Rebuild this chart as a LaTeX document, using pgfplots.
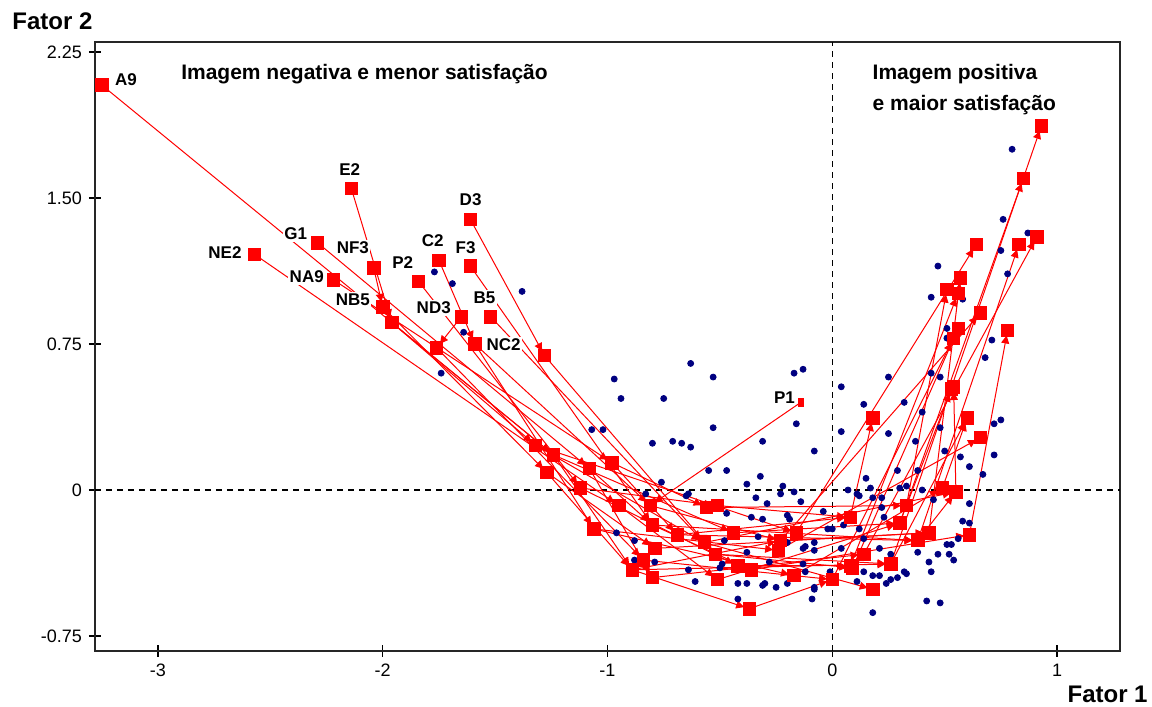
\documentclass[border=0pt]{standalone}
\usepackage{fontspec}
\setmainfont{Liberation Sans}
\usepackage{pgfplots}
\pgfplotsset{compat=1.18}
\usetikzlibrary{arrows.meta}
\definecolor{dotblue}{RGB}{0,0,128}
\definecolor{sqred}{RGB}{255,0,0}
\pgfplotsset{
  seg/.style={sqred, line width=0.5pt, -{Triangle[length=4pt,width=4pt]}, shorten >=2.6pt, forget plot, mark=none},
}
\tikzset{lbl/.style={font=\bfseries\fontsize{8.5}{10}\selectfont, fill=white, inner sep=0.8pt}}
\newcommand{\seg}[4]{\addplot[seg] coordinates {(#1,#2) (#3,#4)};}
\begin{document}
\begin{tikzpicture}
\path[use as bounding box] (-47.5pt,-28pt) rectangle (528.5pt,325.5pt);
\begin{axis}[
  scale only axis, width=512.5pt, height=304.5pt,
  xmin=-3.28, xmax=1.28, ymin=-0.827, ymax=2.301,
  axis line style={line width=1pt, black!85},
  xtick={-3,-2,-1,0,1}, xticklabels={-3,-2,-1,0,1},
  ytick={-0.75,0,0.75,1.5,2.25}, yticklabels={-0.75,0,0.75,1.50,2.25},
  tick align=center, major tick length=6pt,
  xtick pos=lower, ytick pos=left,
  tick style={black, line width=0.6pt},
  ticklabel style={font=\fontsize{9}{10.5}\selectfont},
  clip=false,
]
% reference lines
\addplot[black, line width=0.6pt, dash pattern=on 3pt off 2.5pt, forget plot] coordinates {(-3.28,0) (1.28,0)};
\addplot[black, line width=0.6pt, dash pattern=on 3pt off 2.5pt, forget plot] coordinates {(0,-0.827) (0,2.301)};

% trajectories
% A9
\seg{-3.25}{2.08}{-1.24}{0.18}\seg{-1.24}{0.18}{-0.89}{-0.41}\seg{-0.89}{-0.41}{0.26}{-0.38}\seg{0.26}{-0.38}{0.93}{1.87}
% NE2
\seg{-2.57}{1.21}{-0.95}{-0.08}\seg{-0.95}{-0.08}{-0.51}{-0.46}\seg{-0.51}{-0.46}{0.30}{-0.17}\seg{0.30}{-0.17}{0.85}{1.60}
% G1
\seg{-2.29}{1.27}{-1.08}{0.11}\seg{-1.08}{0.11}{-0.80}{-0.45}\seg{-0.80}{-0.45}{0.14}{-0.33}\seg{0.14}{-0.33}{0.91}{1.30}
% NA9
\seg{-2.22}{1.08}{-0.98}{0.14}\seg{-0.98}{0.14}{-0.69}{-0.23}\seg{-0.69}{-0.23}{0.38}{-0.26}\seg{0.38}{-0.26}{0.83}{1.26}
% E2
\seg{-2.14}{1.55}{-1.96}{0.86}\seg{-1.96}{0.86}{-1.32}{0.23}\seg{-1.32}{0.23}{-0.16}{-0.22}\seg{-0.16}{-0.22}{0.64}{1.26}
% NF3
\seg{-2.04}{1.14}{-2.00}{0.94}\seg{-2.00}{0.94}{-1.27}{0.09}\seg{-1.27}{0.09}{-0.79}{-0.30}\seg{-0.79}{-0.30}{0.43}{-0.22}\seg{0.43}{-0.22}{0.57}{1.09}
% P2
\seg{-1.84}{1.07}{-1.12}{0.01}\seg{-1.12}{0.01}{-0.42}{-0.39}\seg{-0.42}{-0.39}{0.08}{-0.39}\seg{0.08}{-0.39}{0.56}{1.01}
% C2
\seg{-1.75}{1.18}{-1.59}{0.75}\seg{-1.59}{0.75}{-0.81}{-0.08}\seg{-0.81}{-0.08}{-0.23}{-0.26}\seg{-0.23}{-0.26}{0.66}{0.91}
% F3
\seg{-1.61}{1.15}{-0.80}{-0.18}\seg{-0.80}{-0.18}{-0.36}{-0.41}\seg{-0.36}{-0.41}{0.61}{-0.23}\seg{0.61}{-0.23}{0.78}{0.82}
% D3
\seg{-1.61}{1.39}{-1.28}{0.69}\seg{-1.28}{0.69}{-0.52}{-0.33}\seg{-0.52}{-0.33}{0.09}{-0.40}\seg{0.09}{-0.40}{0.56}{0.83}
% ND3
\seg{-1.65}{0.89}{-1.76}{0.73}\seg{-1.76}{0.73}{-0.84}{-0.36}\seg{-0.84}{-0.36}{0.00}{-0.46}\seg{0.00}{-0.46}{0.54}{0.78}
% B5
\seg{-1.52}{0.89}{-0.57}{-0.27}\seg{-0.57}{-0.27}{0.55}{-0.01}\seg{0.55}{-0.01}{0.54}{0.53}
% NC2
\seg{-1.59}{0.75}{-1.06}{-0.20}\seg{-1.06}{-0.20}{-0.17}{-0.44}\seg{-0.17}{-0.44}{0.49}{0.01}\seg{0.49}{0.01}{0.60}{0.37}
% P1
\seg{-0.14}{0.45}{-0.81}{-0.08}
% others
\seg{-1.96}{0.86}{-1.24}{0.18}\seg{-1.24}{0.18}{-0.44}{-0.22}\seg{-0.44}{-0.22}{0.30}{-0.17}\seg{0.30}{-0.17}{0.53}{0.52}
\seg{-1.06}{-0.20}{-0.24}{-0.31}\seg{-0.24}{-0.31}{0.66}{0.27}
\seg{-1.12}{0.01}{-0.51}{-0.08}\seg{-0.51}{-0.08}{0.08}{-0.14}\seg{0.08}{-0.14}{0.18}{0.37}
\seg{-1.27}{0.09}{-0.89}{-0.41}\seg{-0.89}{-0.41}{-0.37}{-0.61}\seg{-0.37}{-0.61}{0.00}{-0.46}
\seg{-1.08}{0.11}{-0.80}{-0.18}\seg{-0.80}{-0.18}{0.38}{-0.26}\seg{0.38}{-0.26}{0.55}{-0.01}
\seg{-0.98}{0.14}{-0.56}{-0.09}\seg{-0.56}{-0.09}{0.33}{-0.08}\seg{0.33}{-0.08}{0.51}{1.03}
\seg{-1.32}{0.23}{-0.57}{-0.27}\seg{-0.57}{-0.27}{0.18}{-0.51}
\seg{-0.89}{-0.41}{-0.23}{-0.26}\seg{-0.23}{-0.26}{0.43}{-0.22}
\seg{-0.69}{-0.23}{0.08}{-0.14}
\seg{-0.52}{-0.33}{0.26}{-0.38}\seg{0.26}{-0.38}{0.60}{0.37}

% blue dots
\addplot[only marks, mark=*, mark size=1.5pt, dotblue, forget plot] coordinates {
(-1.77,1.12) (-1.69,1.06) (-1.38,1.02) (-1.64,0.81) (-1.74,0.60) (-0.97,0.57) (-0.94,0.47)
(-1.07,0.31) (-1.02,0.31) (-0.80,0.24) (-0.63,0.65) (-0.53,0.58) (-0.75,0.47) (-0.17,0.60)
(-0.13,0.62) (-0.53,0.32) (-0.16,0.34) (-0.71,0.25) (-0.67,0.24) (-0.63,0.22) (-0.31,0.25)
(-0.08,0.20) (-0.55,0.10) (-0.47,0.10) (-0.32,0.07) (-0.76,0.04) (-0.38,0.03) (-0.22,0.02)
(-0.23,-0.02) (-0.17,-0.01) (-0.64,-0.02) (-0.65,-0.03) (-0.34,-0.04) (-0.14,-0.06) (-0.29,-0.07)
(-0.04,-0.11) (-0.47,-0.12) (-0.36,-0.14) (-0.31,-0.15) (-0.20,-0.13) (-0.19,-0.15) (-0.96,-0.22)
(-0.88,-0.26) (-0.48,-0.26) (-0.33,-0.24) (-0.13,-0.30) (-0.08,-0.27) (-0.38,-0.32) (-0.28,-0.37)
(-0.13,-0.38) (-0.64,-0.41) (-0.49,-0.38) (-0.50,-0.40) (-0.61,-0.47) (-0.42,-0.48) (-0.38,-0.48)
(-0.31,-0.49) (-0.30,-0.48) (-0.25,-0.50) (-0.20,-0.48) (-0.08,-0.50) (-0.09,-0.56) (-0.42,-0.56)
(-0.83,-0.02) (-0.12,-0.29) (-0.20,-0.27) (0.04,-0.30) (-0.79,-0.37) (-0.88,-0.36) (-0.12,-0.42)
(0.04,0.53) (0.14,0.44) (0.32,0.45) (0.04,0.30) (0.25,0.29) (0.40,0.40) (0.37,0.25) (0.29,0.10)
(0.15,0.06) (0.07,0.00) (0.17,0.01) (0.12,-0.03) (0.18,-0.04) (0.22,-0.04) (0.30,0.01) (0.33,0.02)
(0.22,-0.09) (0.23,-0.14) (0.05,-0.18) (0.12,-0.20) (-0.02,-0.20) (0.00,-0.20) (0.14,-0.25)
(-0.08,-0.31) (0.21,-0.30) (0.26,-0.33) (0.38,-0.32) (0.32,-0.42) (0.33,-0.43) (0.29,-0.45)
(0.26,-0.46) (0.24,-0.48) (0.14,-0.42) (0.11,-0.47) (0.18,-0.44) (0.21,-0.44) (-0.01,-0.42)
(-0.08,-0.51) (0.18,-0.63) (0.42,-0.57) (0.48,-0.58) (0.43,-0.37) (0.44,-0.42) (0.47,-0.33)
(0.52,-0.33) (0.54,-0.36) (0.51,-0.28) (0.53,-0.28) (0.56,-0.25) (0.58,-0.16) (0.61,-0.17)
(0.61,-0.07) (0.61,0.12) (0.67,0.08) (0.57,0.17) (0.72,0.18) (0.72,0.34) (0.75,0.36) (0.48,0.32)
(0.80,1.75) (0.76,1.39) (0.87,1.32) (0.75,1.23) (0.78,1.11) (0.47,1.15) (0.44,0.99) (0.58,0.98)
(0.51,0.83) (0.51,0.78) (0.71,0.77) (0.68,0.68) (0.48,0.58) (0.25,0.58) (0.11,-0.02) (0.40,0.00)
(0.45,-0.05) (0.38,0.10) (0.50,0.20) (0.44,0.60)
};

% red squares
\addplot[only marks, mark=square*, mark size=3.1pt, sqred, forget plot] coordinates {
(-3.25,2.08) (-2.57,1.21) (-2.29,1.27) (-2.22,1.08) (-2.14,1.55) (-2.04,1.14) (-2.00,0.94)
(-1.96,0.86) (-1.84,1.07) (-1.75,1.18) (-1.59,0.75) (-1.61,1.15) (-1.61,1.39) (-1.28,0.69)
(-1.65,0.89) (-1.76,0.73) (-1.52,0.89)
(-1.24,0.18) (-0.95,-0.08) (-1.08,0.11) (-0.98,0.14) (-1.32,0.23) (-1.27,0.09) (-1.12,0.01)
(-0.81,-0.08) (-0.80,-0.18) (-0.57,-0.27) (-1.06,-0.20) (-0.89,-0.41) (-0.51,-0.46) (-0.80,-0.45)
(-0.69,-0.23) (-0.79,-0.30) (-0.42,-0.39) (-0.23,-0.26) (-0.36,-0.41) (-0.52,-0.33) (-0.84,-0.36)
(-0.17,-0.44) (-0.16,-0.22) (-0.44,-0.22) (-0.24,-0.31) (-0.51,-0.08) (-0.56,-0.09) (-0.37,-0.61)
(0.00,-0.46) (0.26,-0.38) (0.30,-0.17) (0.14,-0.33) (0.38,-0.26) (0.43,-0.22) (0.08,-0.39)
(0.61,-0.23) (0.09,-0.40) (0.55,-0.01) (0.49,0.01) (0.08,-0.14) (0.33,-0.08) (0.18,-0.51)
(0.93,1.87) (0.85,1.60) (0.91,1.30) (0.83,1.26) (0.64,1.26) (0.57,1.09) (0.56,1.01) (0.66,0.91)
(0.78,0.82) (0.56,0.83) (0.54,0.78) (0.54,0.53) (0.60,0.37) (0.53,0.52) (0.66,0.27) (0.18,0.37)
(0.51,1.03)
};
\addplot[only marks, mark=square*, mark size=2.2pt, sqred, forget plot, mark options={xscale=0.5}] coordinates {(-0.14,0.45)};

% point labels
\node[lbl] at (axis cs:-3.142,2.106) {A9};
\node[lbl] at (axis cs:-2.147,1.644) {E2};
\node[lbl] at (axis cs:-2.387,1.315) {G1};
\node[lbl] at (axis cs:-2.702,1.222) {NE2};
\node[lbl] at (axis cs:-2.338,1.094) {NA9};
\node[lbl] at (axis cs:-2.133,1.243) {NF3};
\node[lbl] at (axis cs:-2.133,0.976) {NB5};
\node[lbl] at (axis cs:-1.911,1.166) {P2};
\node[lbl] at (axis cs:-1.778,1.279) {C2};
\node[lbl] at (axis cs:-1.631,1.243) {F3};
\node[lbl] at (axis cs:-1.609,1.489) {D3};
\node[lbl] at (axis cs:-1.773,0.935) {ND3};
\node[lbl] at (axis cs:-1.547,0.986) {B5};
\node[lbl] at (axis cs:-1.462,0.745) {NC2};
\node[lbl] at (axis cs:-0.213,0.473) {P1};

% region captions
\node[anchor=base west, font=\bfseries\fontsize{10.5}{12}\selectfont, inner sep=0pt] at (axis cs:-2.898,2.106) {Imagem negativa e menor satisfação};
\node[anchor=base west, font=\bfseries\fontsize{10.5}{12}\selectfont, inner sep=0pt] at (axis cs:0.178,2.106) {Imagem positiva};
\node[anchor=base west, font=\bfseries\fontsize{10.5}{12}\selectfont, inner sep=0pt] at (axis cs:0.178,1.947) {e maior satisfação};
\end{axis}
\node[anchor=base west, font=\bfseries\fontsize{12}{14}\selectfont, inner sep=0pt] at (-41.5pt,310.5pt) {Fator 2};
\node[anchor=base east, font=\bfseries\fontsize{12}{14}\selectfont, inner sep=0pt] at (526.5pt,-25.5pt) {Fator 1};
\end{tikzpicture}
\end{document}
